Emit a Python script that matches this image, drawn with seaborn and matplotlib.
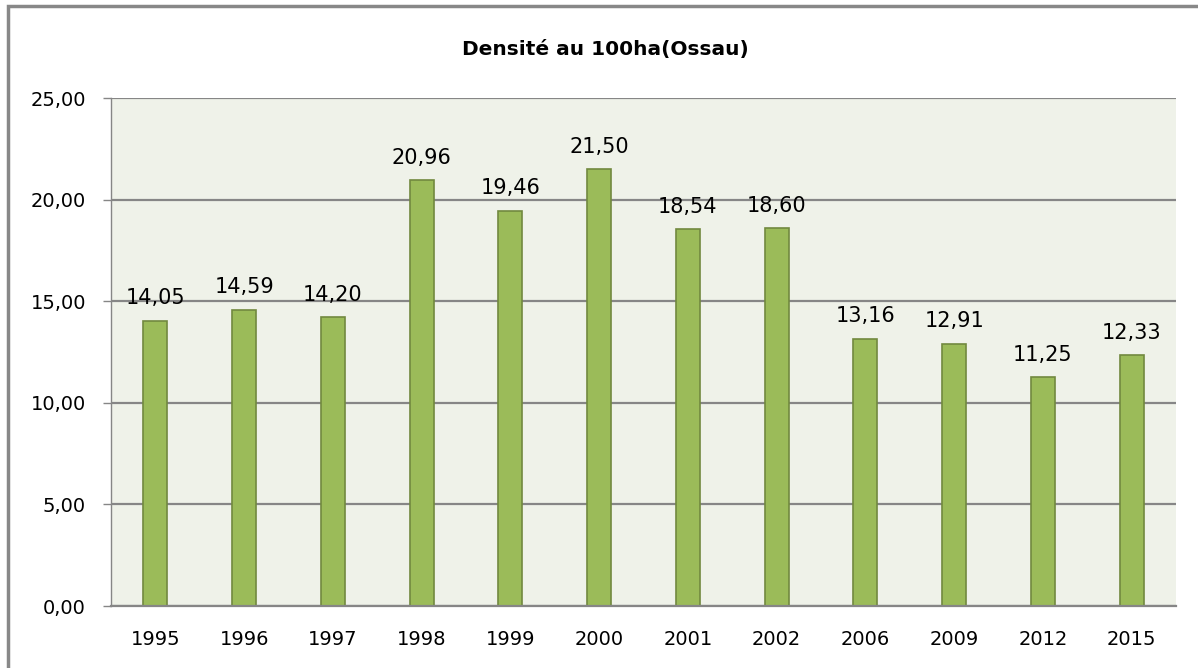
import matplotlib
matplotlib.use("Agg")
import matplotlib.pyplot as plt
import seaborn as sns
import pandas as pd
from matplotlib.patches import Rectangle

# data
years = ["1995", "1996", "1997", "1998", "1999", "2000",
         "2001", "2002", "2006", "2009", "2012", "2015"]
densite = [14.05, 14.59, 14.20, 20.96, 19.46, 21.50,
           18.54, 18.60, 13.16, 12.91, 11.25, 12.33]
yticks = [0, 5, 10, 15, 20, 25]

df = pd.DataFrame({"annee": years, "densite": densite})

sns.set_style("white")
plt.rcParams["font.family"] = ["DejaVu Sans"]
plt.rcParams["text.color"] = "black"
plt.rcParams["xtick.labelcolor"] = "black"
plt.rcParams["ytick.labelcolor"] = "black"

fig = plt.figure(figsize=(11.98, 6.68), dpi=100)
ax = fig.add_axes([111 / 1198, 62 / 668, 1065 / 1198, 508 / 668])
ax.set_facecolor("#EFF2E9")

sns.barplot(data=df, x="annee", y="densite", color="#9BBB59",
            saturation=1, width=0.27, edgecolor="#71893F", linewidth=1.2, ax=ax)

# value labels with comma decimals
ax.bar_label(ax.containers[0], labels=[f"{v:.2f}".replace(".", ",") for v in densite],
             padding=9, fontsize=15, color="black")

ax.set_ylim(0, 25)
ax.set_xlim(-0.5, len(years) - 0.5)
ax.set_yticks(yticks)
ax.set_yticklabels([f"{t:.2f}".replace(".", ",") for t in yticks])
ax.yaxis.grid(True, color="#868686", linewidth=1.6)
ax.set_axisbelow(True)
ax.set_xlabel("")
ax.set_ylabel("")

# tick marks between categories
ax.set_xticks([i - 0.5 for i in range(len(years) + 1)], minor=True)
ax.tick_params(axis="x", which="minor", length=8, width=1, color="#868686", direction="out")
ax.tick_params(axis="x", which="major", length=0, pad=17, labelsize=14)
ax.tick_params(axis="y", length=6, width=1, color="#868686", direction="out",
               pad=12, labelsize=14, left=True)

for s in ["top", "right"]:
    ax.spines[s].set_visible(False)
ax.spines["left"].set_color("#868686")
ax.spines["left"].set_linewidth(1)
ax.spines["bottom"].set_color("#868686")
ax.spines["bottom"].set_linewidth(1.6)

fig.text(605 / 1198, 1 - 50 / 668, "Densité au 100ha(Ossau)", ha="center", va="center",
         fontsize=14.5, fontweight="bold")

# outer chart frame
fig.patches.append(Rectangle((8 / 1198, -0.02), 1.1, 1 - 6 / 668 + 0.02,
                             transform=fig.transFigure, fill=False,
                             edgecolor="#888888", linewidth=2.5))

fig.savefig("out.png", dpi=100)
